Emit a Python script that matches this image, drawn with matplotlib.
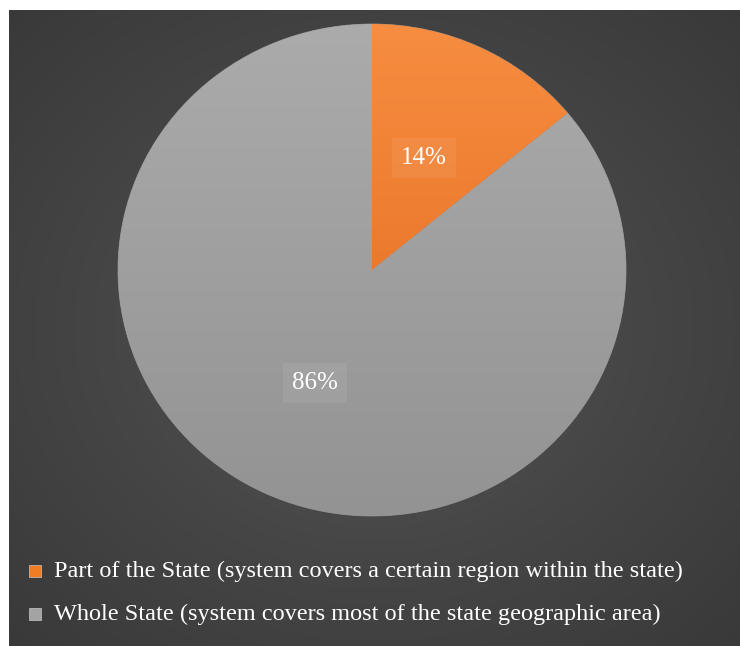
import numpy as np
import matplotlib
matplotlib.use("Agg")
import matplotlib.pyplot as plt
from matplotlib.colors import LinearSegmentedColormap
from matplotlib.patches import Rectangle

# Données
labels = ["Part of the State (system covers a certain region within the state)",
          "Whole State (system covers most of the state geographic area)"]
values = [14, 86]
colors = ["#f07c26", "#a3a3a3"]
grad_top = ["#f68d40", "#ababab"]
grad_bottom = ["#e2661a", "#939393"]

W, H = 740, 646
fig = plt.figure(figsize=(W / 100, H / 100), dpi=100)
fig.patch.set_facecolor("white")

# Fond sombre avec dégradé radial
bg = fig.add_axes([9 / W, 0, (W - 9) / W, (H - 10) / H])
bg.set_axis_off()
yy, xx = np.mgrid[0:1:400j, 0:1:400j]
r = np.sqrt(((xx - 0.5) / 0.75) ** 2 + ((yy - 0.5) / 0.75) ** 2)
bg_cmap = LinearSegmentedColormap.from_list("bg", ["#575757", "#464646", "#393939"])
bg.imshow(r, cmap=bg_cmap, extent=[0, 1, 0, 1], aspect="auto", vmin=0, vmax=0.95)
bg.set_xlim(0, 1)
bg.set_ylim(0, 1)

# Camembert
cx, cy, rx, ry = 372, H - 270, 254, 246
ax = fig.add_axes([(cx - rx) / W, (cy - ry) / H, 2 * rx / W, 2 * ry / H])
ax.set_axis_off()
wedges, _ = ax.pie(values, colors=colors, startangle=90, counterclock=False,
                   radius=1, wedgeprops=dict(linewidth=0.6, edgecolor="#8a8a8a"))
ax.set_aspect("auto")

# dégradé vertical dans chaque part
for w, top, bot in zip(wedges, grad_top, grad_bottom):
    cm = LinearSegmentedColormap.from_list("g", [bot, top])
    g = np.linspace(0, 1, 256).reshape(-1, 1)
    im = ax.imshow(g, cmap=cm, extent=[-1, 1, -1, 1], origin="lower",
                   aspect="auto", zorder=w.get_zorder() + 0.1)
    im.set_clip_path(w)
ax.set_xlim(-1, 1)
ax.set_ylim(-1, 1)

# Étiquettes de pourcentage
font = ["Liberation Serif", "DejaVu Serif"]
label_pos = [(424, 158), (315, 383)]
for v, (px, py) in zip(values, label_pos):
    fig.text(px / W, 1 - py / H, f"{v}%", color="white", fontsize=18,
             family=font, ha="center", va="center", zorder=10,
             bbox=dict(boxstyle="square,pad=0.35", facecolor="white",
                       alpha=0.07, edgecolor="none"))

# Légende
for i, (lab, col) in enumerate(zip(labels, colors)):
    ly = 1 - (571 + 43 * i) / H
    fig.patches.append(Rectangle((29 / W, ly - 6 / H), 12 / W, 12 / H,
                                 transform=fig.transFigure, facecolor=col,
                                 edgecolor="#dddddd", linewidth=0.4, zorder=10))
    fig.text(54 / W, ly, lab, color="white", fontsize=17.5, family=font,
             ha="left", va="center", zorder=10)

fig.savefig("out.png", dpi=100, facecolor=fig.get_facecolor())
